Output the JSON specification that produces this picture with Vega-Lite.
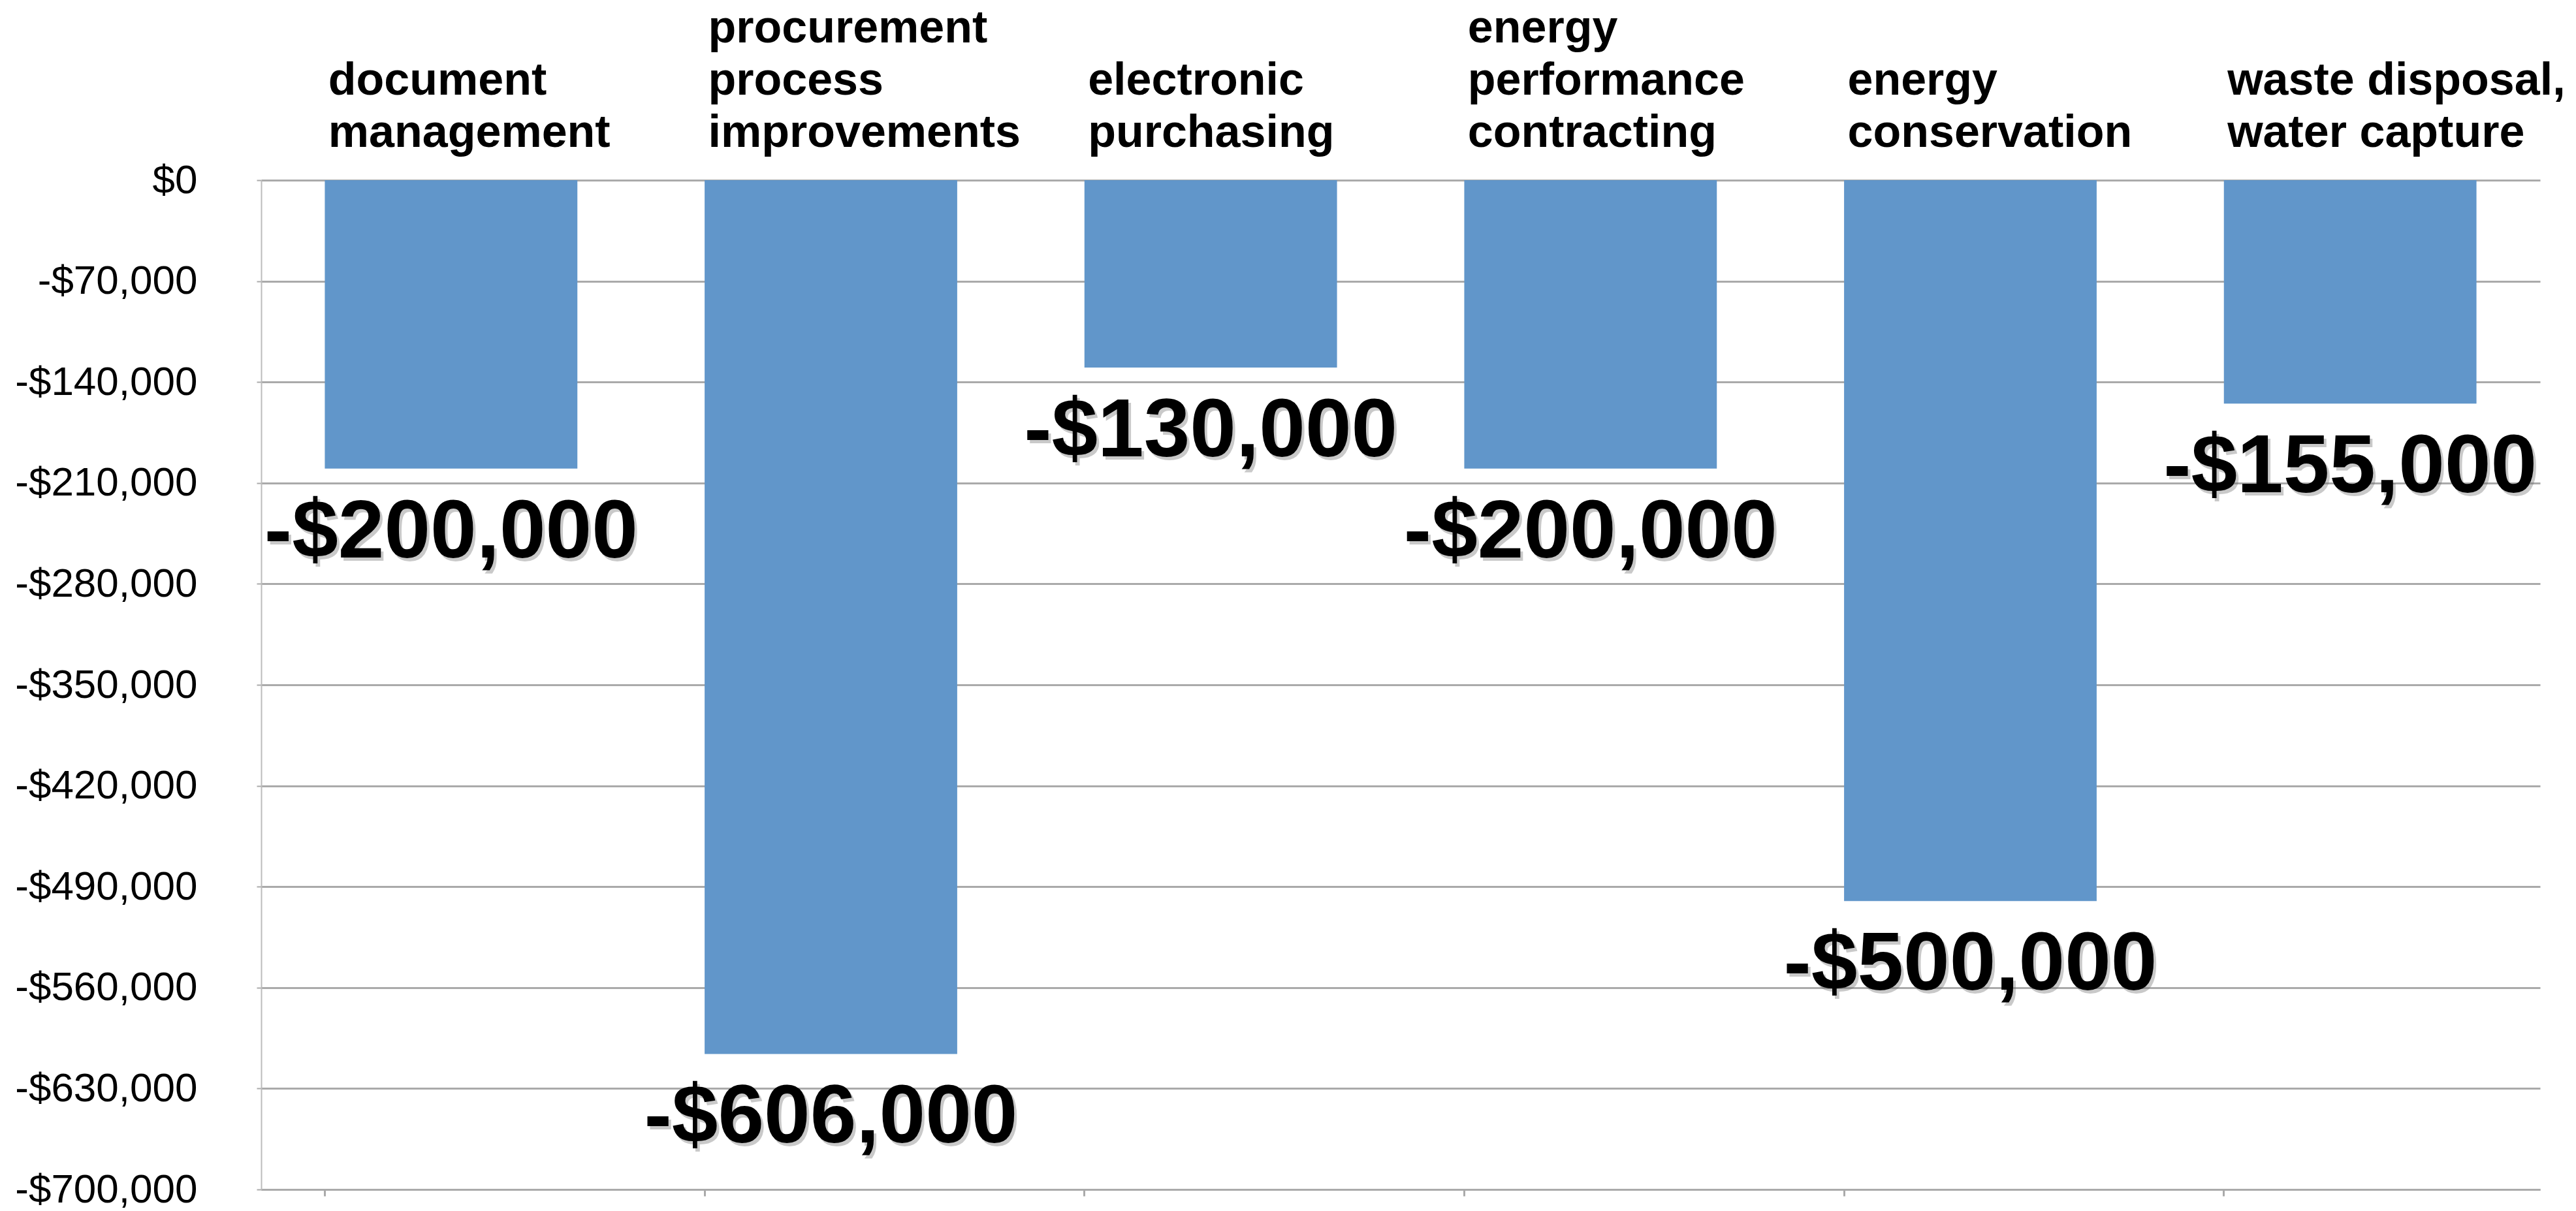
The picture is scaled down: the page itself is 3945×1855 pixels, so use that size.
{
  "$schema": "https://vega.github.io/schema/vega-lite/v6.json",
  "autosize": "none",
  "width": 3490,
  "height": 1546,
  "padding": {"left": 400, "top": 276, "right": 55, "bottom": 33},
  "background": "white",
  "config": {
    "view": {"stroke": null},
    "locale": {"number": {"decimal": ".", "thousands": ",", "grouping": [3], "currency": ["$", ""], "minus": "-"}}
  },
  "data": {
    "values": [
      {"category": "document\nmanagement", "value": -200000},
      {"category": "procurement\nprocess\nimprovements", "value": -606000},
      {"category": "electronic\npurchasing", "value": -130000},
      {"category": "energy\nperformance\ncontracting", "value": -200000},
      {"category": "energy\nconservation", "value": -500000},
      {"category": "waste disposal,\nwater capture", "value": -155000}
    ]
  },
  "encoding": {
    "x": {
      "field": "category", "type": "nominal", "sort": null,
      "scale": {"paddingInner": 0.335, "paddingOuter": 0.1675},
      "axis": {"orient": "bottom", "labels": false, "title": null, "domain": true, "domainColor": "#aaaaaa", "domainWidth": 3, "ticks": true, "tickColor": "#aaaaaa", "tickWidth": 3, "tickSize": 10, "bandPosition": 0, "grid": false}
    },
    "y": {
      "field": "value", "type": "quantitative",
      "scale": {"domain": [-700000, 0], "nice": false},
      "axis": {
        "values": [0, -70000, -140000, -210000, -280000, -350000, -420000, -490000, -560000, -630000, -700000],
        "format": "$,.0f", "title": null,
        "labelFont": "Liberation Sans", "labelFontSize": 62, "labelColor": "black", "labelPadding": 91, "labelLimit": 1000,
        "tickSize": 7, "tickColor": "#aaaaaa", "tickWidth": 2,
        "grid": true, "gridColor": "#aaaaaa", "gridWidth": 3,
        "domainColor": "#bbbbbb", "domainWidth": 2
      }
    }
  },
  "layer": [
    {
      "mark": {"type": "bar", "color": "#6196CA"},
      "encoding": {
        "x": {
          "field": "category", "type": "nominal", "sort": null,
          "axis": {
            "orient": "top", "title": null,
            "labelExpr": "split(length(split(datum.label, '\\n')) == 2 ? ' \\n' + datum.label : datum.label, '\\n')",
            "labelFont": "Liberation Sans", "labelFontWeight": "bold", "labelFontSize": 70, "labelColor": "black",
            "labelAlign": "left", "labelBaseline": "alphabetic", "labelLineHeight": 80, "labelOffset": -188,
            "labelPadding": 212, "labelLimit": 2000, "labelAngle": 0, "labelOverlap": false,
            "ticks": false, "tickSize": 0, "domain": false, "grid": false
          }
        }
      }
    },
    {
      "mark": {"type": "text", "font": "Liberation Sans", "fontWeight": "bold", "fontSize": 127, "baseline": "alphabetic", "align": "center", "dx": 4, "dy": 141, "color": "#666666", "opacity": 0.35},
      "encoding": {
        "x": {"field": "category", "type": "nominal", "sort": null, "axis": null},
        "text": {"field": "value", "type": "quantitative", "format": "$,.0f"}
      }
    },
    {
      "mark": {"type": "text", "font": "Liberation Sans", "fontWeight": "bold", "fontSize": 127, "baseline": "alphabetic", "align": "center", "dy": 136, "color": "black"},
      "encoding": {
        "text": {"field": "value", "type": "quantitative", "format": "$,.0f"}
      }
    }
  ],
  "resolve": {"axis": {"x": "independent"}}
}
